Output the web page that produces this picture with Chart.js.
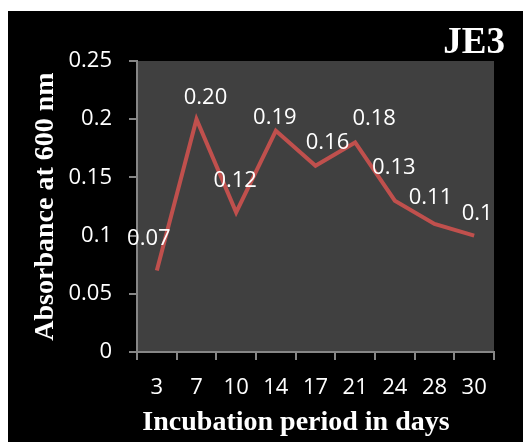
<!DOCTYPE html>
<html>
<head>
<meta charset="utf-8">
<script src="https://cdn.jsdelivr.net/npm/chart.js@4/dist/chart.umd.min.js"></script>
<style>
  body { margin: 0; background: #fff; }
  #wrap { position: absolute; left: 8px; top: 11px; width: 515px; height: 431px; background: #000; }
</style>
</head>
<body>
<div id="wrap"><canvas id="absChart" width="515" height="431"></canvas></div>
<script>
// chart data
const days = ['3', '7', '10', '14', '17', '21', '24', '28', '30'];
const absorbance = [0.07, 0.20, 0.12, 0.19, 0.16, 0.18, 0.13, 0.11, 0.10];
const valueLabels = ['0.07', '0.20', '0.12', '0.19', '0.16', '0.18', '0.13', '0.11', '0.1'];
const yTicks = [0, 0.05, 0.1, 0.15, 0.2, 0.25];
const yTickLabels = ['0', '0.05', '0.1', '0.15', '0.2', '0.25'];

// where each value label sits relative to its point (dx, dy)
const labelShift = [[-8, -32], [9, -21], [-1, -32], [-1, -13], [12, -23], [19, -24], [-1, -33], [-4, -26], [3, -22]];

const tickFont = { family: '"Open Sans", sans-serif', size: 22 };
const titleFont = { family: '"Liberation Serif", "Times New Roman", serif', size: 28, weight: 'bold' };
const axisGray = '#868686';

const plotBg = {
  id: 'plotBg',
  beforeDraw(chart) {
    const a = chart.chartArea;
    const ctx = chart.ctx;
    ctx.save();
    ctx.fillStyle = '#404040';
    ctx.fillRect(a.left, a.top, a.right - a.left, a.bottom - a.top);
    ctx.restore();
  }
};

const pointLabels = {
  id: 'pointLabels',
  afterDatasetsDraw(chart) {
    const ctx = chart.ctx;
    const meta = chart.getDatasetMeta(0);
    ctx.save();
    ctx.fillStyle = '#fff';
    ctx.font = tickFont.size + 'px ' + tickFont.family;
    ctx.textAlign = 'center';
    ctx.textBaseline = 'middle';
    meta.data.forEach((pt, i) => {
      ctx.fillText(valueLabels[i], pt.x + labelShift[i][0], pt.y + labelShift[i][1]);
    });
    ctx.restore();
  }
};

// "JE3" in the top right corner and the x axis title (sits a bit left of centre)
const extraText = {
  id: 'extraText',
  afterDraw(chart) {
    const ctx = chart.ctx;
    const a = chart.chartArea;
    ctx.save();
    ctx.fillStyle = '#fff';
    ctx.font = 'bold 37px "Liberation Serif", serif';
    ctx.textAlign = 'right';
    ctx.textBaseline = 'alphabetic';
    ctx.fillText('JE3', a.right + 11, 42);
    ctx.font = titleFont.weight + ' ' + titleFont.size + 'px ' + titleFont.family;
    ctx.textAlign = 'center';
    ctx.textBaseline = 'middle';
    ctx.fillText('Incubation period in days', a.left + 159, a.bottom + 71);
    ctx.restore();
  }
};

new Chart(document.getElementById('absChart'), {
  type: 'line',
  data: {
    labels: days,
    datasets: [{
      data: absorbance,
      borderColor: '#C0504D',
      borderWidth: 4,
      pointRadius: 0,
      tension: 0,
      fill: false
    }]
  },
  options: {
    responsive: false,
    animation: false,
    layout: { padding: { top: 50, right: 29, left: 0, bottom: 0 } },
    plugins: {
      legend: { display: false },
      tooltip: { enabled: false }
    },
    scales: {
      x: {
        offset: true,
        grid: { offset: true, drawOnChartArea: false, drawTicks: true, tickLength: 8, color: axisGray, lineWidth: 2 },
        border: { color: axisGray, width: 2 },
        ticks: { color: '#fff', font: tickFont, padding: 15, maxRotation: 0, autoSkip: false },
        afterFit(scale) { scale.height = 90; }
      },
      y: {
        min: 0,
        max: 0.25,
        afterBuildTicks(scale) { scale.ticks = yTicks.map(v => ({ value: v })); },
        grid: { drawOnChartArea: false, drawTicks: true, tickLength: 8, color: axisGray, lineWidth: 2 },
        border: { color: axisGray, width: 2 },
        ticks: {
          color: '#fff', font: tickFont, padding: 17,
          callback: (v, i) => yTickLabels[i]
        },
        title: { display: true, text: 'Absorbance at 600 nm', color: '#fff', font: titleFont, padding: 21 },
        afterFit(scale) { scale.width = 129; }
      }
    }
  },
  plugins: [plotBg, pointLabels, extraText]
});
</script>
</body>
</html>
